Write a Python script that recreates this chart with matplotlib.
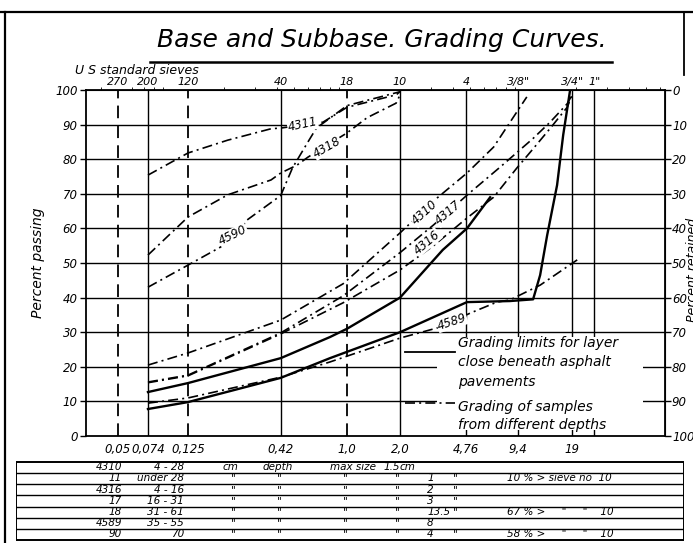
import matplotlib
matplotlib.use("Agg")
import matplotlib.pyplot as plt
from matplotlib.lines import Line2D
from matplotlib.patches import Rectangle

# sieve openings (mm), US standard sieve numbers and bottom labels
sieve_mm = [0.05, 0.074, 0.125, 0.42, 1.0, 2.0, 4.76, 9.4, 19, 25.4]
sieve_no = ["270", "200", "120", "40", "18", "10", "4", '3/8"', '3/4"', '1"']
mm_labels = ["0,05", "0,074", "0,125", "0,42", "1,0", "2,0", "4,76", "9,4", "19", ""]
dashed_sieves = [0.05, 0.125, 1.0]
pct_ticks = list(range(0, 101, 10))

# grading limits, layer close beneath asphalt pavements
upper_mm = [0.074, 0.125, 0.42, 0.8, 1.0, 2.0, 3.0, 3.5, 4.8, 6.5]
upper_pct = [12.7, 15.3, 22.5, 28.6, 31.0, 40.0, 50.0, 53.8, 60.0, 69.0]
lower_mm = [0.074, 0.125, 0.42, 0.8, 2.0, 4.8, 8.4, 11.4, 12.5, 13.7, 15.6, 16.9, 18.5]
lower_pct = [7.8, 9.8, 16.8, 22.5, 30.0, 38.7, 39.0, 39.5, 46.5, 58.0, 72.5, 87.0, 100.0]

# samples from different depths
s4310_mm = [0.074, 0.125, 0.42, 0.95, 2.0, 3.25, 4.8, 6.8, 9.2, 10.5]
s4310_pct = [20.5, 24.0, 33.5, 44.0, 58.7, 68.8, 76.0, 83.5, 93.6, 98.0]
s4311_mm = [0.074, 0.125, 0.21, 0.37, 0.42, 0.73, 1.0, 1.9, 2.0]
s4311_pct = [75.4, 81.8, 85.5, 88.8, 89.0, 90.7, 95.0, 98.6, 99.5]
s4316_mm = [0.074, 0.125, 0.42, 0.95, 2.0, 3.1, 4.8, 6.8, 9.2, 11.4, 14.3, 17.8, 19]
s4316_pct = [15.4, 17.4, 29.5, 38.5, 48.0, 55.0, 63.0, 69.0, 77.4, 83.0, 89.0, 95.0, 98.6]
s4317_mm = [0.074, 0.125, 0.42, 0.95, 2.0, 3.1, 4.8, 7.4, 11.4, 14.3, 17.8, 19]
s4317_pct = [15.6, 17.6, 29.8, 40.5, 53.0, 61.0, 69.6, 77.7, 86.0, 90.8, 96.0, 98.6]
s4318_mm = [0.074, 0.125, 0.21, 0.37, 0.42, 0.52, 0.6, 1.0, 1.3, 1.9, 2.0]
s4318_pct = [52.3, 63.3, 69.7, 74.0, 76.0, 78.3, 80.6, 87.6, 92.0, 96.2, 98.6]
s4589_mm = [0.074, 0.125, 0.42, 0.8, 2.0, 3.4, 5.0, 7.1, 8.4, 12.5, 20.3]
s4589_pct = [9.5, 11.0, 17.0, 21.4, 28.3, 31.5, 35.5, 38.7, 39.3, 43.6, 50.9]
s4590_mm = [0.074, 0.125, 0.225, 0.27, 0.42, 0.49, 0.6, 0.67, 1.0, 2.0]
s4590_pct = [43.0, 49.4, 56.6, 62.4, 69.5, 77.5, 85.0, 89.0, 95.5, 99.5]

# table under the chart
tab_ids = ["4310", "11", "4316", "17", "18", "4589", "90"]
tab_depth = ["4 - 28", "under 28", "4 - 16", "16 - 31", "31 - 61", "35 - 55", "70"]
tab_size = ["1.5", "1", "2", "3", "13.5", "8", "4"]
tab_note = ["", "10 % > sieve no  10", "", "", '67 % >     "     "    10', "",
            '58 % >     "     "    10']

plt.rcParams["font.family"] = ["DejaVu Sans"]
plt.rcParams["font.style"] = "italic"

fig = plt.figure(figsize=(6.93, 5.43), dpi=100)
W, H = 693.0, 543.0
ax = fig.add_axes([86 / W, 1 - 436 / H, (665 - 86) / W, (436 - 90) / H])
ax.set_xscale("log")
ax.set_xlim(0.0329, 64)
ax.set_ylim(0, 100)
ax.minorticks_off()
for sp in ax.spines.values():
    sp.set_linewidth(1.3)

# grid
for v in pct_ticks[1:-1]:
    ax.axhline(v, color="black", lw=1.0, zorder=1)
for d in sieve_mm:
    if d in dashed_sieves:
        ax.axvline(d, color="black", lw=1.3, ls=(0, (7, 4)), zorder=1)
    else:
        ax.axvline(d, color="black", lw=1.0, zorder=1)

ax.set_xticks(sieve_mm)
ax.set_xticklabels(mm_labels, fontsize=8.5)
ax.tick_params(axis="x", length=0, pad=5)
ax.set_yticks(pct_ticks)
ax.set_yticklabels([str(v) for v in pct_ticks], fontsize=8.5)
ax.tick_params(axis="y", length=4, width=1.0, pad=2)

top = ax.secondary_xaxis("top")
top.set_xticks(sieve_mm)
top.set_xticklabels(sieve_no, fontsize=8)
top.tick_params(length=0, pad=2)

right = ax.secondary_yaxis("right", functions=(lambda y: 100 - y, lambda y: 100 - y))
right.set_yticks(pct_ticks)
right.set_yticklabels([str(v) for v in pct_ticks], fontsize=8.5)
right.tick_params(length=4, width=1.0, pad=1)

# white space behind the legend text
ax.add_patch(Rectangle((3.25, 1.6), 48 - 3.25, 27.0, facecolor="white",
                       edgecolor="none", zorder=2))

dashdot = (0, (6, 2.5, 1.2, 2.5))
ax.plot(upper_mm, upper_pct, color="black", lw=1.7, zorder=3)
ax.plot(lower_mm, lower_pct, color="black", lw=1.7, zorder=3)
for xs, ys in [(s4310_mm, s4310_pct), (s4311_mm, s4311_pct), (s4316_mm, s4316_pct),
               (s4317_mm, s4317_pct), (s4318_mm, s4318_pct), (s4589_mm, s4589_pct),
               (s4590_mm, s4590_pct)]:
    ax.plot(xs, ys, color="black", lw=1.2, ls=dashdot, zorder=3)

lab = dict(fontsize=8.5, ha="center", va="center", zorder=4,
           bbox=dict(facecolor="white", edgecolor="none", pad=0.3))
ax.text(0.56, 89.9, "4311", rotation=12, **lab)
ax.text(0.77, 83.5, "4318", rotation=30, **lab)
ax.text(0.225, 58.0, "4590", rotation=26, **lab)
ax.text(2.77, 64.5, "4310", rotation=42, **lab)
ax.text(3.75, 64.5, "4317", rotation=40, **lab)
ax.text(2.84, 56.0, "4316", rotation=40, **lab)
ax.text(3.95, 33.0, "4589", rotation=18, **lab)

# legend
ax.plot([2.14, 4.11], [24.3, 24.3], color="black", lw=1.3, zorder=3)
ax.plot([2.14, 4.11], [9.5, 9.5], color="black", lw=1.2, ls=dashdot, zorder=3)
leg = dict(fontsize=10, ha="left", va="center", zorder=4)
ax.text(4.27, 26.9, "Grading limits for layer", **leg)
ax.text(4.27, 21.4, "close beneath asphalt", **leg)
ax.text(4.27, 15.6, "pavements", **leg)
ax.text(4.27, 8.4, "Grading of samples", **leg)
ax.text(4.27, 3.2, "from different depths", **leg)

ax.set_ylabel("Percent passing", fontsize=10, labelpad=7)
fig.text(692 / W, 1 - 270 / H, "Percent retained", rotation=90, fontsize=9,
         ha="center", va="center")

fig.text(382 / W, 1 - 40 / H, "Base and Subbase. Grading Curves.", fontsize=18,
         ha="center", va="center")
fig.add_artist(Line2D([150 / W, 612 / W], [1 - 62 / H] * 2, color="black", lw=1.8))
fig.text(75 / W, 1 - 70 / H, "U S standard sieves", fontsize=9, ha="left", va="center")

# sheet frame
fig.add_artist(Line2D([0, 1], [1 - 12 / H] * 2, color="black", lw=1.6))
fig.add_artist(Line2D([5 / W, 5 / W], [0, 1 - 12 / H], color="black", lw=1.6))
fig.add_artist(Line2D([684 / W, 684 / W], [1 - 75 / H, 1 - 12 / H], color="black", lw=1.3))

# sample table, one ruled row per sample
tab = fig.add_axes([16 / W, 1 - 542 / H, (684 - 16) / W, (542 - 458) / H])
tab.set_xlim(16, 684)
tab.set_ylim(542, 458)
tab.axis("off")
tab.add_patch(Rectangle((16, 462), 668, 78, facecolor="none", edgecolor="black", lw=1.4))
row_h = 78 / len(tab_ids)
for i in range(1, len(tab_ids)):
    y = 462 + i * row_h
    tab.plot([16, 684], [y, y], color="black", lw=1.0)
tt = dict(fontsize=7.5, va="bottom")
for i in range(len(tab_ids)):
    yb = 462 + (i + 1) * row_h - 0.8
    tab.text(122, yb, tab_ids[i], ha="right", **tt)
    tab.text(184, yb, tab_depth[i], ha="right", **tt)
    if i == 0:
        tab.text(230, yb, "cm", ha="center", **tt)
        tab.text(278, yb, "depth", ha="center", **tt)
        tab.text(353, yb, "max size", ha="center", **tt)
        tab.text(383, yb, tab_size[i], ha="left", **tt)
        tab.text(400, yb, "cm", ha="left", **tt)
    else:
        for xd in (233, 279, 345, 397):
            tab.text(xd, yb, '"', ha="center", **tt)
        tab.text(427, yb, tab_size[i], ha="left", **tt)
        if i != 5:
            tab.text(455, yb, '"', ha="center", **tt)
        tab.text(507, yb, tab_note[i], ha="left", **tt)

fig.savefig("out.png", dpi=100)
